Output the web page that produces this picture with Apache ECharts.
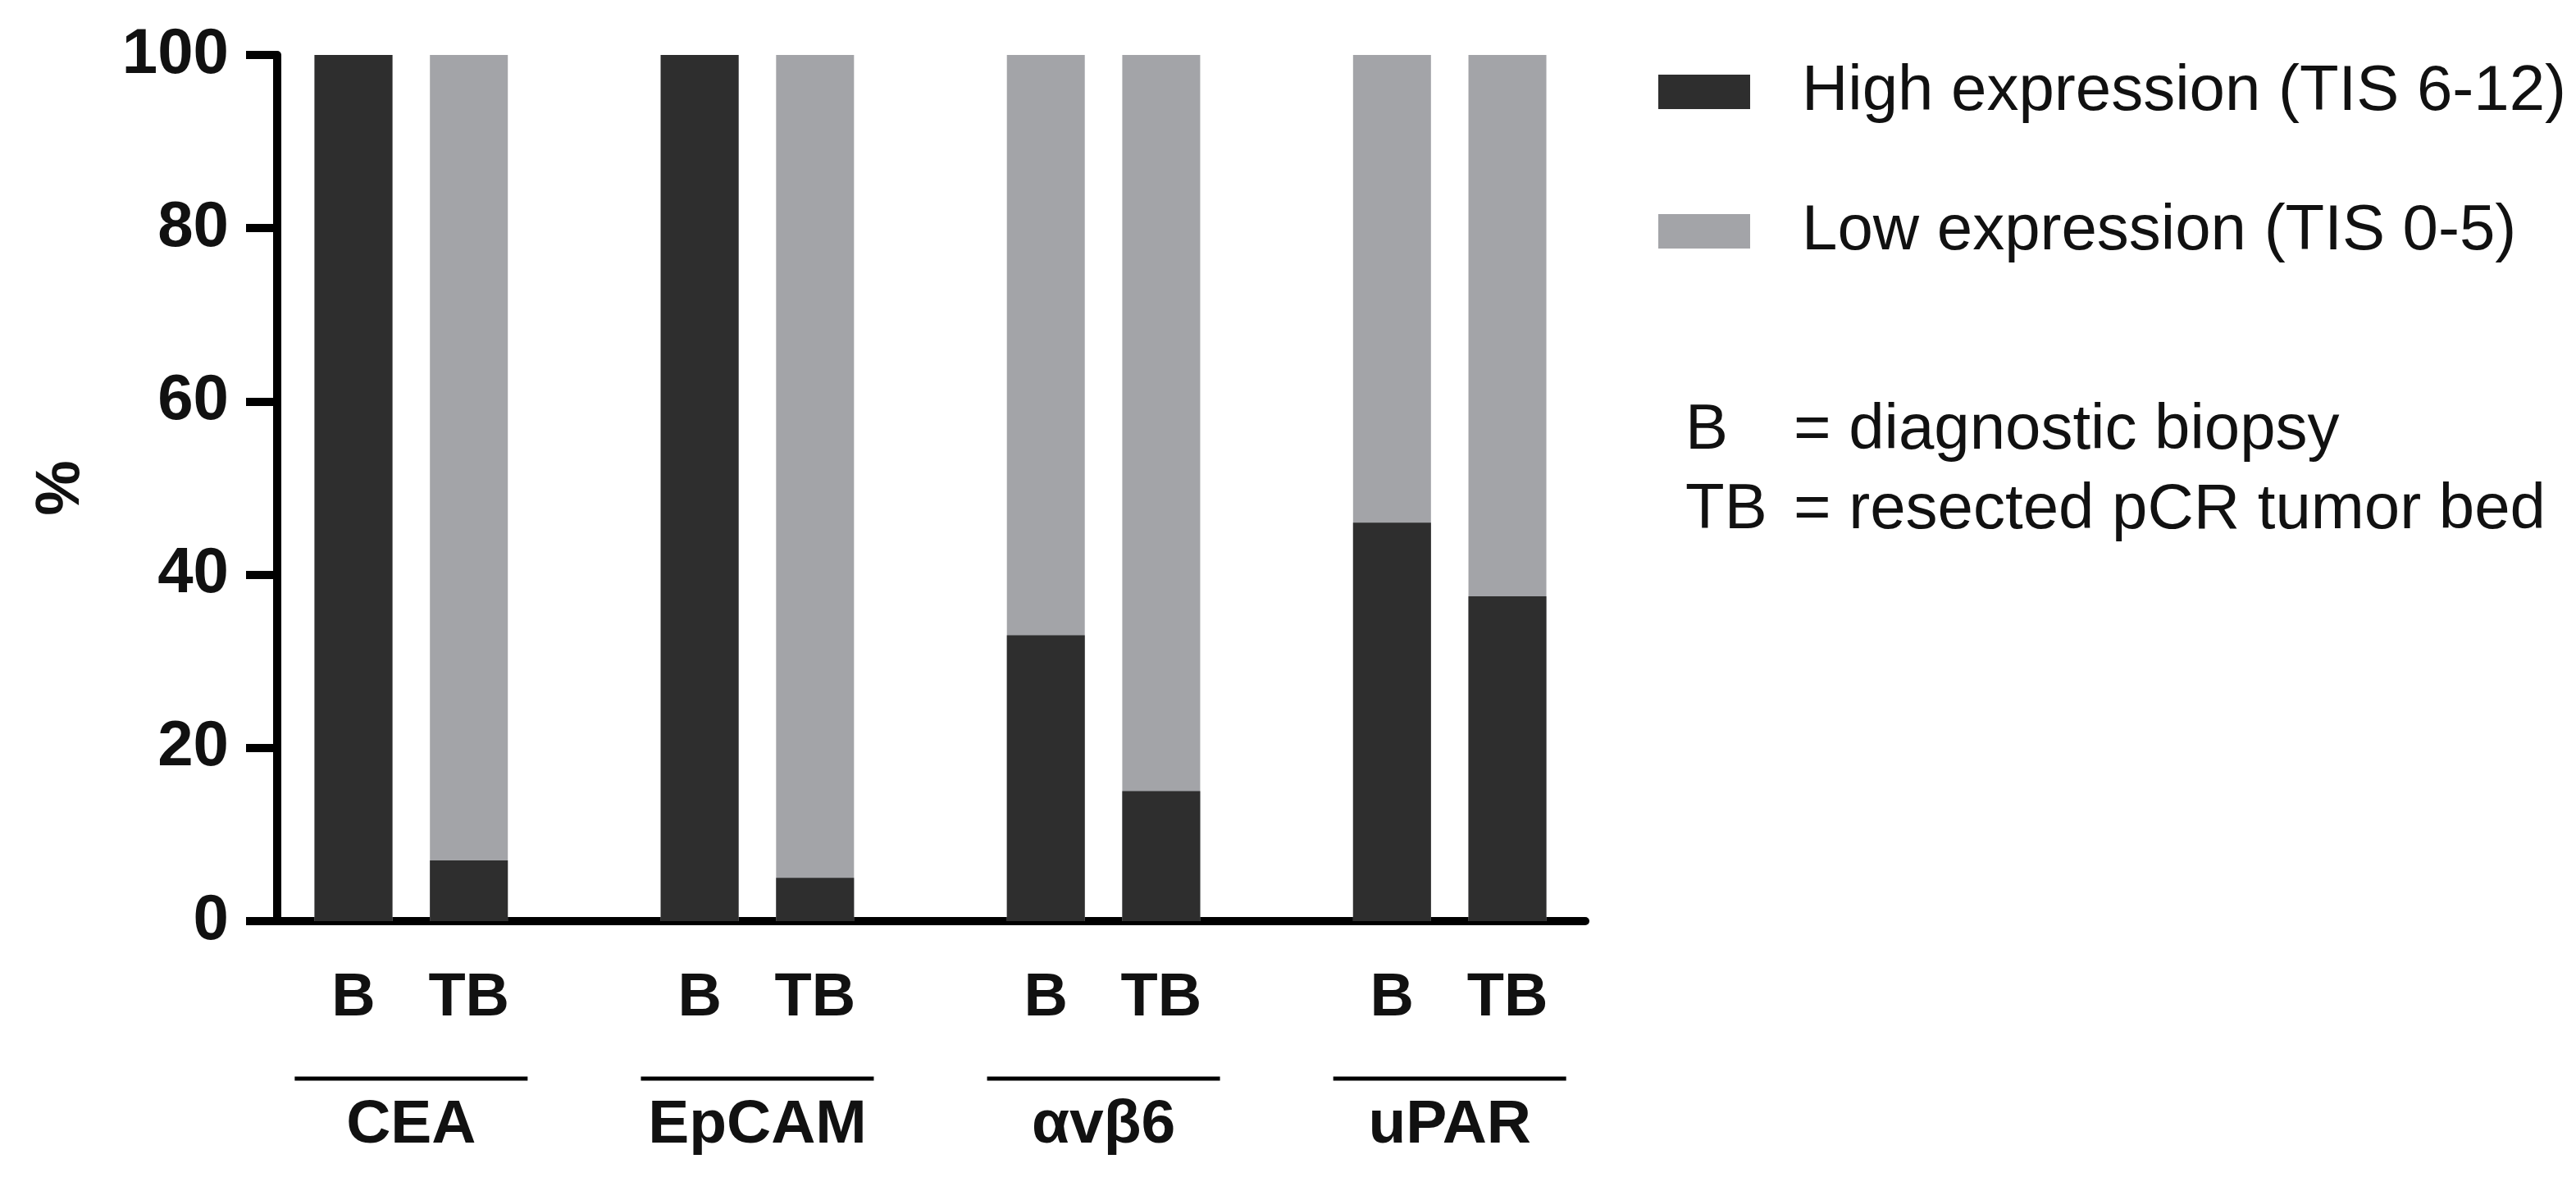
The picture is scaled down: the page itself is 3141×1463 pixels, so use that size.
<!DOCTYPE html>
<html>
<head>
<meta charset="utf-8">
<script src="https://cdn.jsdelivr.net/npm/echarts@6/dist/echarts.min.js"></script>
<style>
  html, body { margin: 0; padding: 0; background: #fff; }
  #chart { width: 3141px; height: 1463px; }
</style>
</head>
<body>
<div id="chart"></div>
<script>
// slot positions on the x axis: B / TB pairs, one empty slot between markers
var slots = [0, 1, 3, 4, 6, 7, 9, 10];
var slotLabels = ['B', 'TB', 'B', 'TB', 'B', 'TB', 'B', 'TB'];
var markers = ['CEA', 'EpCAM', 'αvβ6', 'uPAR'];
var markerCenters = [0.5, 3.5, 6.5, 9.5];
var highValues = [100, 7, 100, 5, 33, 15, 46, 37.5];
var lowValues = [0, 93, 0, 95, 67, 85, 54, 62.5];
var yTicks = [0, 20, 40, 60, 80, 100];

var font = '"Liberation Sans", Arial, sans-serif';
var dark = '#2e2e2e';
var light = '#a3a4a8';

var chart = echarts.init(document.getElementById('chart'));

// the low part sits on top of the high part: draw it as the full column behind
var highData = highValues.map(function (v, i) { return [slots[i], v]; });
var stackedData = lowValues.map(function (v, i) { return [slots[i], highValues[i] + v]; });

var option = {
    backgroundColor: '#fff',
    animation: false,
    grid: { left: 338, right: 1208, top: 67, bottom: 340 },
    legend: {
        orient: 'vertical',
        left: 2017,
        top: 62,
        icon: 'rect',
        itemWidth: 112,
        itemHeight: 42,
        itemGap: 80,
        selectedMode: false,
        textStyle: {
            fontFamily: font, fontSize: 78, color: '#111',
            lineHeight: 90, padding: [0, 0, 0, 58]
        },
        data: ['High expression (TIS 6-12)', 'Low expression (TIS 0-5)']
    },
    xAxis: [{
        type: 'value',
        min: -0.661,
        max: 10.675,
        splitLine: { show: false },
        axisTick: { show: false },
        axisLine: { show: true, onZero: false, lineStyle: { color: '#000', width: 10 } },
        axisLabel: {
            customValues: slots,
            margin: 58,
            fontFamily: '"Liberation Sans Narrow", ' + font,
            fontWeight: 'bold',
            fontSize: 74,
            color: '#111',
            formatter: function (v) { return slotLabels[slots.indexOf(v)]; }
        }
    }, {
        type: 'value',
        position: 'bottom',
        min: -0.661,
        max: 10.675,
        splitLine: { show: false },
        axisTick: { show: false },
        axisLine: { show: false },
        axisLabel: {
            customValues: markerCenters,
            margin: 212,
            fontFamily: font,
            fontWeight: 'bold',
            fontSize: 75,
            color: '#111',
            formatter: function (v) { return markers[markerCenters.indexOf(v)]; }
        }
    }],
    yAxis: {
        type: 'value',
        min: 0,
        max: 100,
        interval: 20,
        name: '%',
        nameLocation: 'middle',
        nameRotate: 90,
        nameGap: 225,
        nameTextStyle: { fontFamily: font, fontWeight: 'bold', fontSize: 76, color: '#111' },
        splitLine: { show: false },
        axisLine: { show: true, onZero: false, lineStyle: { color: '#000', width: 10 } },
        axisTick: { show: true, length: 38, lineStyle: { color: '#000', width: 10 } },
        axisLabel: {
            margin: 59,
            fontFamily: font,
            fontWeight: 'bold',
            fontSize: 78,
            color: '#111',
            formatter: function (v) { return yTicks.indexOf(v) >= 0 ? String(v) : ''; }
        }
    },
    series: [{
        name: 'Low expression (TIS 0-5)',
        type: 'bar',
        barWidth: 95,
        barGap: '-100%',
        z: 2,
        itemStyle: { color: light },
        data: stackedData
    }, {
        name: 'High expression (TIS 6-12)',
        type: 'bar',
        barWidth: 95,
        barGap: '-100%',
        z: 3,
        itemStyle: { color: dark },
        data: highData
    }]
};

chart.setOption(option);

// underlines below the B/TB labels, one per marker, placed through the axis scale
var lines = markerCenters.map(function (c) {
    var px = chart.convertToPixel({ xAxisIndex: 0 }, c);
    return {
        type: 'line',
        shape: { x1: px - 142, y1: 1315, x2: px + 142, y2: 1315 },
        style: { stroke: '#000', lineWidth: 5 }
    };
});

var noteStyle = { font: '78px ' + font, fill: '#111', textVerticalAlign: 'middle' };
var notes = [
    { type: 'text', x: 2055, y: 525, style: Object.assign({ text: 'B' }, noteStyle) },
    { type: 'text', x: 2187, y: 525, style: Object.assign({ text: '= diagnostic biopsy' }, noteStyle) },
    { type: 'text', x: 2055, y: 622, style: Object.assign({ text: 'TB' }, noteStyle) },
    { type: 'text', x: 2187, y: 622, style: Object.assign({ text: '= resected pCR tumor bed' }, noteStyle) }
];

chart.setOption({ graphic: lines.concat(notes) });
</script>
</body>
</html>
